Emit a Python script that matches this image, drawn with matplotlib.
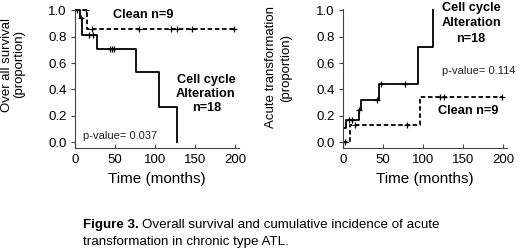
import numpy as np
import matplotlib
matplotlib.use('Agg')
import matplotlib.pyplot as plt

plt.rcParams['font.family'] = ['Liberation Sans', 'DejaVu Sans']

# ---- overall survival (left) ----
os_cell_t = [0, 6, 9, 28, 76.5, 105, 127.5]
os_cell_s = [1.0, 0.944, 0.81, 0.71, 0.535, 0.268, 0.0]
os_cell_cens_t = [7, 18, 23, 44, 46, 49]
os_cell_cens_s = [0.944, 0.81, 0.81, 0.71, 0.71, 0.71]

os_clean_t = [0, 15, 199]
os_clean_s = [1.0, 0.857, 0.857]
os_clean_cens_t = [3, 14, 21, 80, 120, 127, 146, 199]
os_clean_cens_s = [1.0, 1.0, 0.857, 0.857, 0.857, 0.857, 0.857, 0.857]

# ---- acute transformation (right) ----
at_cell_t = [0, 0.5, 4, 19.5, 23, 45, 94, 113]
at_cell_s = [0, 0.105, 0.165, 0.242, 0.322, 0.44, 0.72, 1.0]
at_cell_cens_t = [7.5, 11, 20.5, 42, 48, 77.5]
at_cell_cens_s = [0.165, 0.165, 0.242, 0.322, 0.44, 0.44]

at_clean_t = [0, 8.75, 96.5, 199]
at_clean_s = [0, 0.127, 0.343, 0.343]
at_clean_cens_t = [2.5, 15, 80, 121, 126, 199]
at_clean_cens_s = [0, 0.127, 0.127, 0.343, 0.343, 0.343]

xticks = [0, 50, 100, 150, 200]
yticks = [0.0, 0.2, 0.4, 0.6, 0.8, 1.0]

W, H = 520, 250
fig = plt.figure(figsize=(W / 100, H / 100), dpi=100)


def px_axes(x0, y0, x1, y1):
    return fig.add_axes([x0 / W, 1 - y1 / H, (x1 - x0) / W, (y1 - y0) / H])


def ftext(x, y, s, **kw):
    return fig.text(x / W, 1 - y / H, s, **kw)


def style(ax):
    ax.set_xlim(0, 205)
    ax.set_ylim(-0.045, 1.01)
    ax.set_xticks(xticks)
    ax.set_yticks(yticks)
    ax.set_yticklabels([f'{v:.1f}' for v in yticks])
    ax.spines['top'].set_visible(False)
    ax.spines['right'].set_visible(False)
    for s in ['left', 'bottom']:
        ax.spines[s].set_color('#444444')
        ax.spines[s].set_linewidth(0.8)
    ax.tick_params(axis='y', direction='out', length=3, labelsize=9.5,
                   color='#444444', pad=3)
    ax.tick_params(axis='x', direction='in', length=3, labelsize=9.5,
                   color='#444444', pad=4)
    ax.set_xlabel('Time (months)', fontsize=11, labelpad=5)


def km(ax, t, s, ct, cs, ls):
    ax.plot(t, s, drawstyle='steps-post', color='black', lw=1.3, ls=ls)
    ax.plot(ct, cs, ls='none', marker='+', ms=5, mew=0.9, color='black')


ax1 = px_axes(75, 9, 239, 148)
km(ax1, os_cell_t, os_cell_s, os_cell_cens_t, os_cell_cens_s, '-')
km(ax1, os_clean_t, os_clean_s, os_clean_cens_t, os_clean_cens_s, (0, (2.5, 1.5)))
style(ax1)

ax2 = px_axes(343, 9, 507, 148)
km(ax2, at_cell_t, at_cell_s, at_cell_cens_t, at_cell_cens_s, '-')
km(ax2, at_clean_t, at_clean_s, at_clean_cens_t, at_clean_cens_s, (0, (2.5, 1.5)))
style(ax2)

# y labels, one text per line
ylab = dict(fontsize=9.5, rotation=90, ha='center', va='center')
ftext(7, 64.5, 'Over all survival', **ylab)
ftext(19, 64.5, '(proportion)', **ylab)
ftext(271, 67.5, 'Acute transformation', **ylab)
ftext(286, 67.5, '(proportion)', **ylab)

bold = dict(fontsize=9.2, fontweight='bold', ha='center', va='center')
ftext(143, 14.5, 'Clean n=9', **bold)
ftext(206, 80, 'Cell cycle', **bold)
ftext(206, 94, 'Alteration', **bold)
ftext(207, 108, 'n=18', **bold)
ftext(83, 136, 'p-value= 0.037', fontsize=8, ha='left', va='center', color='#222222')

ftext(471, 7.5, 'Cell cycle', **bold)
ftext(471, 23, 'Alteration', **bold)
ftext(471, 39, 'n=18', **bold)
ftext(442, 71, 'p-value= 0.114', fontsize=8, ha='left', va='center', color='#222222')
ftext(468, 111, 'Clean n=9', **bold)

# caption: bold lead-in followed by regular text
cap_fs = 9.6
lead = ftext(83, 225, 'Figure 3.', fontsize=cap_fs, fontweight='bold', ha='left', va='center')
fig.canvas.draw()
bb = lead.get_window_extent(fig.canvas.get_renderer())
ftext(bb.x1 + 3.5, 225, 'Overall survival and cumulative incidence of acute',
      fontsize=cap_fs, ha='left', va='center')
ftext(83, 242, 'transformation in chronic type ATL.', fontsize=cap_fs, ha='left', va='center')

fig.savefig('out.png', dpi=100)
